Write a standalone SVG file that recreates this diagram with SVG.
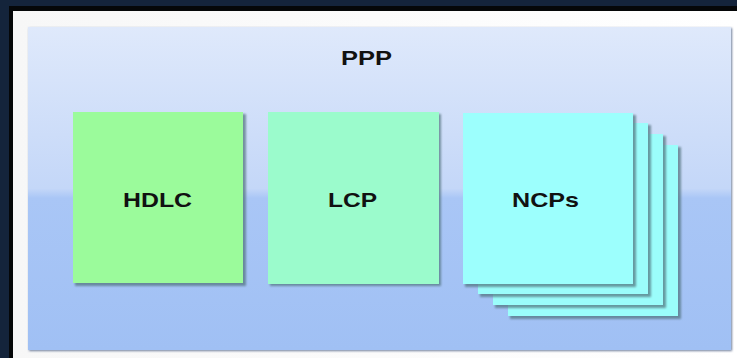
<svg xmlns="http://www.w3.org/2000/svg" width="737" height="358" viewBox="0 0 737 358">
  <defs>
    <linearGradient id="panelFill" x1="0" y1="0" x2="0" y2="1">
      <stop offset="0" stop-color="#dfe9fb"/>
      <stop offset="0.5" stop-color="#c4d7f8"/>
      <stop offset="0.53" stop-color="#a9c6f6"/>
      <stop offset="1" stop-color="#a0c0f4"/>
    </linearGradient>
    <linearGradient id="frameFill" x1="0" y1="0" x2="1" y2="0">
      <stop offset="0" stop-color="#f7f7f7"/>
      <stop offset="1" stop-color="#ffffff"/>
    </linearGradient>
    <filter id="shadow" x="-10%" y="-10%" width="130%" height="130%">
      <feGaussianBlur stdDeviation="1.2"/>
    </filter>
    <g id="card">
      <rect x="2" y="2" width="171" height="172" fill="#4f6f7a" opacity="0.7" filter="url(#shadow)"/>
    </g>
  </defs>
  <style>
    .label { font-family: "Liberation Sans", Arial, sans-serif; font-weight: bold; font-size: 21px; fill: #111; text-anchor: start; }
    .box { stroke: none; }
  </style>

  <!-- backdrop and frame -->
  <rect x="0" y="0" width="737" height="358" fill="#14243b"/>
  <rect x="9" y="6" width="728" height="352" fill="#050708"/>
  <rect x="13" y="11" width="724" height="347" fill="url(#frameFill)"/>

  <!-- PPP panel -->
  <g id="ppp">
    <rect x="29" y="28" width="703" height="323" fill="#6f7f9c" filter="url(#shadow)"/>
    <rect x="28" y="27" width="703" height="323" fill="url(#panelFill)"/>
    <text class="label" x="341" y="65" textLength="51" lengthAdjust="spacingAndGlyphs" font-size="20">PPP</text>
  </g>

  <!-- HDLC -->
  <g id="hdlc">
    <use href="#card" x="73" y="112"/>
    <rect class="box" x="73" y="112" width="170" height="171" fill="#9bfb9b"/>
    <text class="label" x="123" y="207" textLength="69" lengthAdjust="spacingAndGlyphs">HDLC</text>
  </g>

  <!-- LCP -->
  <g id="lcp">
    <use href="#card" x="268" y="112"/>
    <rect class="box" x="268" y="112" width="171" height="172" fill="#9bfbcc"/>
    <text class="label" x="328" y="207" textLength="49" lengthAdjust="spacingAndGlyphs">LCP</text>
  </g>

  <!-- NCPs: stacked cards, back to front -->
  <g id="ncps">
    <use href="#card" x="508" y="145"/>
    <rect class="box" x="508" y="145" width="170" height="171" fill="#9bfdfb"/>
    <use href="#card" x="493" y="134"/>
    <rect class="box" x="493" y="134" width="170" height="171" fill="#9bfdfb"/>
    <use href="#card" x="478" y="123"/>
    <rect class="box" x="478" y="123" width="170" height="171" fill="#9bfdfb"/>
    <use href="#card" x="463" y="113"/>
    <rect class="box" x="463" y="113" width="170" height="171" fill="#9cfffd"/>
    <text class="label" x="512" y="207" textLength="67" lengthAdjust="spacingAndGlyphs">NCPs</text>
  </g>

  <g id="connectors"/>
</svg>
